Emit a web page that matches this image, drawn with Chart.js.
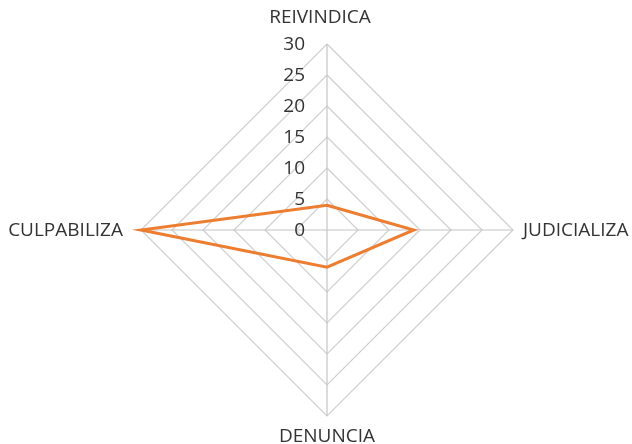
<!DOCTYPE html>
<html>
<head>
<meta charset="utf-8">
<script src="https://cdn.jsdelivr.net/npm/chart.js@4/dist/chart.umd.min.js"></script>
<style>
  html, body { margin: 0; padding: 0; background: #fff; }
  #wrap { width: 632px; height: 444px; }
</style>
</head>
<body>
<div id="wrap"><canvas id="radar-chart"></canvas></div>
<script>
const categories = ['REIVINDICA', 'JUDICIALIZA', 'DENUNCIA', 'CULPABILIZA'];
const values = [4, 14, 6, 30];
const tickMax = 30;
const tickStep = 5;

// label gap from the outer ring, per category (top, right, bottom, left)
const labelGap = [27, 10, 20, 18];
const labelShiftX = [-7, 0, 0, 0];
const textColor = '#333333';
const fontFamily = '"Open Sans", "Noto Sans", sans-serif';

const radarText = {
  id: 'radarText',
  afterDraw(chart) {
    const scale = chart.scales.r;
    const ctx = chart.ctx;
    ctx.save();
    ctx.font = '19px ' + fontFamily;
    ctx.fillStyle = textColor;
    ctx.textBaseline = 'middle';

    // tick labels to the left of the vertical axis
    ctx.textAlign = 'right';
    scale.ticks.forEach(t => {
      const d = scale.getDistanceFromCenterForValue(t.value);
      ctx.fillText(String(t.value), scale.xCenter - 22, scale.yCenter - d + 1);
    });

    // category labels
    categories.forEach((label, i) => {
      const p = scale.getPointPosition(i, scale.drawingArea + labelGap[i]);
      if (i === 1) ctx.textAlign = 'left';
      else if (i === 3) ctx.textAlign = 'right';
      else ctx.textAlign = 'center';
      ctx.fillText(label, p.x + labelShiftX[i], p.y + 1);
    });
    ctx.restore();
  }
};

const ctx = document.getElementById('radar-chart').getContext('2d');
const chart = new Chart(ctx, {
  type: 'radar',
  data: {
    labels: categories,
    datasets: [{
      data: values,
      borderColor: '#ED7D31',
      borderWidth: 3,
      fill: false,
      pointRadius: 0,
      pointHoverRadius: 0,
      tension: 0
    }]
  },
  options: {
    responsive: true,
    maintainAspectRatio: false,
    animation: false,
    layout: {
      padding: { left: 22, right: 0, top: 44, bottom: 28 }
    },
    scales: {
      r: {
        min: 0,
        max: tickMax,
        ticks: { stepSize: tickStep, display: false },
        grid: { color: '#cfcfcf', lineWidth: 1.2 },
        angleLines: { color: '#c4c4c4', lineWidth: 1.2 },
        pointLabels: { display: false }
      }
    },
    plugins: {
      legend: { display: false },
      tooltip: { enabled: false }
    }
  },
  plugins: [radarText]
});
</script>
</body>
</html>
